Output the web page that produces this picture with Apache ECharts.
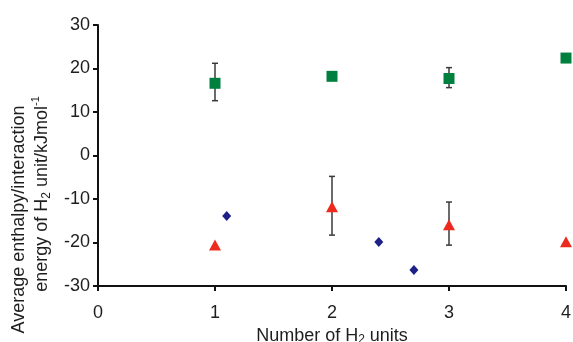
<!DOCTYPE html>
<html>
<head>
<meta charset="utf-8">
<script src="https://cdn.jsdelivr.net/npm/echarts@6/dist/echarts.min.js"></script>
<style>
  html, body { margin: 0; padding: 0; background: #fff; }
  #chart { width: 573px; height: 342px; }
</style>
</head>
<body>
<div id="chart"></div>
<script>
// values
const xTicks = [0, 1, 2, 3, 4];
const yTicks = [-30, -20, -10, 0, 10, 20, 30];

const greenX = [1, 2, 3, 4];
const greenY = [16.6, 18.2, 17.7, 22.4];
const greenLo = [12.6, null, 15.6, null];
const greenHi = [21.2, null, 20.2, null];

const blueX = [1.1, 2.4, 2.7];
const blueY = [-13.9, -19.9, -26.3];

const redX = [1, 2, 3, 4];
const redY = [-20.6, -11.8, -15.9, -19.8];
const redLo = [null, -18.3, -20.6, null];
const redHi = [null, -4.8, -10.7, null];

const font = 'Liberation Sans, Arial, sans-serif';
const txt = '#1e1e1e';

function pairs(xs, ys) {
  return xs.map((x, i) => [x, ys[i]]);
}
function errRows(xs, lo, hi) {
  const out = [];
  xs.forEach((x, i) => {
    if (lo[i] != null) out.push([x, lo[i], hi[i]]);
  });
  return out;
}

// error bar with small caps
function renderErr(params, api) {
  const x = api.value(0);
  const a = api.coord([x, api.value(1)]);
  const b = api.coord([x, api.value(2)]);
  const w = 3;
  const st = { stroke: '#3a3a3a', lineWidth: 1.5 };
  return {
    type: 'group',
    children: [
      { type: 'line', shape: { x1: a[0], y1: a[1], x2: b[0], y2: b[1] }, style: st },
      { type: 'line', shape: { x1: a[0] - w, y1: a[1], x2: a[0] + w, y2: a[1] }, style: st },
      { type: 'line', shape: { x1: b[0] - w, y1: b[1], x2: b[0] + w, y2: b[1] }, style: st },
    ],
  };
}

const myChart = echarts.init(document.getElementById('chart'), null, { renderer: 'canvas' });
const option = {
  backgroundColor: '#fff',
  animation: false,
  grid: {
    left: 98,
    right: 7,
    top: 25,
    bottom: 56,
    containLabel: false,
    outerBoundsMode: 'none',
  },
  xAxis: {
    type: 'value',
    min: xTicks[0],
    max: xTicks[xTicks.length - 1],
    interval: 1,
    name: '{a|Number of H}{s|2}{a| units}',
    nameLocation: 'middle',
    nameGap: 33,
    nameTextStyle: {
      rich: {
        a: { fontSize: 18, fontFamily: font, color: txt, lineHeight: 20 },
        s: { fontSize: 12, fontFamily: font, color: txt, lineHeight: 20, verticalAlign: 'bottom', padding: [7, 0, 0, 0] },
      },
    },
    axisLine: { show: true, onZero: false, lineStyle: { color: '#111', width: 2 } },
    axisTick: { show: true, inside: false, length: 5, lineStyle: { color: '#111', width: 2 } },
    axisLabel: { fontSize: 18, fontFamily: font, color: txt, margin: 18 },
    splitLine: { show: false },
  },
  yAxis: {
    type: 'value',
    min: yTicks[0],
    max: yTicks[yTicks.length - 1],
    interval: 10,
    name: '{a|Average enthalpy/interaction}\n{b|energy of H}{s|2}{a| unit/kJmol}{p|-1}',
    nameLocation: 'middle',
    nameGap: 39,
    nameTextStyle: {
      padding: [0, 128, 0, 0],
      rich: {
        a: { fontSize: 18, fontFamily: font, color: txt, lineHeight: 23 },
        b: { fontSize: 18, fontFamily: font, color: txt, lineHeight: 23, padding: [0, 0, 0, 51] },
        s: { fontSize: 12, fontFamily: font, color: txt, lineHeight: 23, verticalAlign: 'bottom', padding: [8, 0, 0, 0] },
        p: { fontSize: 11, fontFamily: font, color: txt, lineHeight: 23, verticalAlign: 'top', padding: [0, 0, 8, 0] },
      },
    },
    axisLine: { show: true, onZero: false, lineStyle: { color: '#111', width: 2 } },
    axisTick: { show: true, inside: false, length: 5, lineStyle: { color: '#111', width: 2 } },
    axisLabel: { fontSize: 18, fontFamily: font, color: txt, margin: 8 },
    splitLine: { show: false },
  },
  series: [
    {
      type: 'custom',
      renderItem: renderErr,
      data: errRows(greenX, greenLo, greenHi).concat(errRows(redX, redLo, redHi)),
      encode: { x: 0, y: [1, 2] },
      z: 1,
      silent: true,
    },
    {
      type: 'scatter',
      symbol: 'rect',
      symbolSize: 11,
      itemStyle: { color: '#00803e', opacity: 1 },
      data: pairs(greenX, greenY),
      z: 3,
    },
    {
      type: 'scatter',
      symbol: 'diamond',
      symbolSize: [9, 10],
      itemStyle: { color: '#1d2187', opacity: 1 },
      data: pairs(blueX, blueY),
      z: 3,
    },
    {
      type: 'scatter',
      symbol: 'triangle',
      symbolSize: [12, 11],
      itemStyle: { color: '#ee2a1f', opacity: 1 },
      data: pairs(redX, redY),
      z: 3,
    },
  ],
};
myChart.setOption(option, true);
</script>
</body>
</html>
